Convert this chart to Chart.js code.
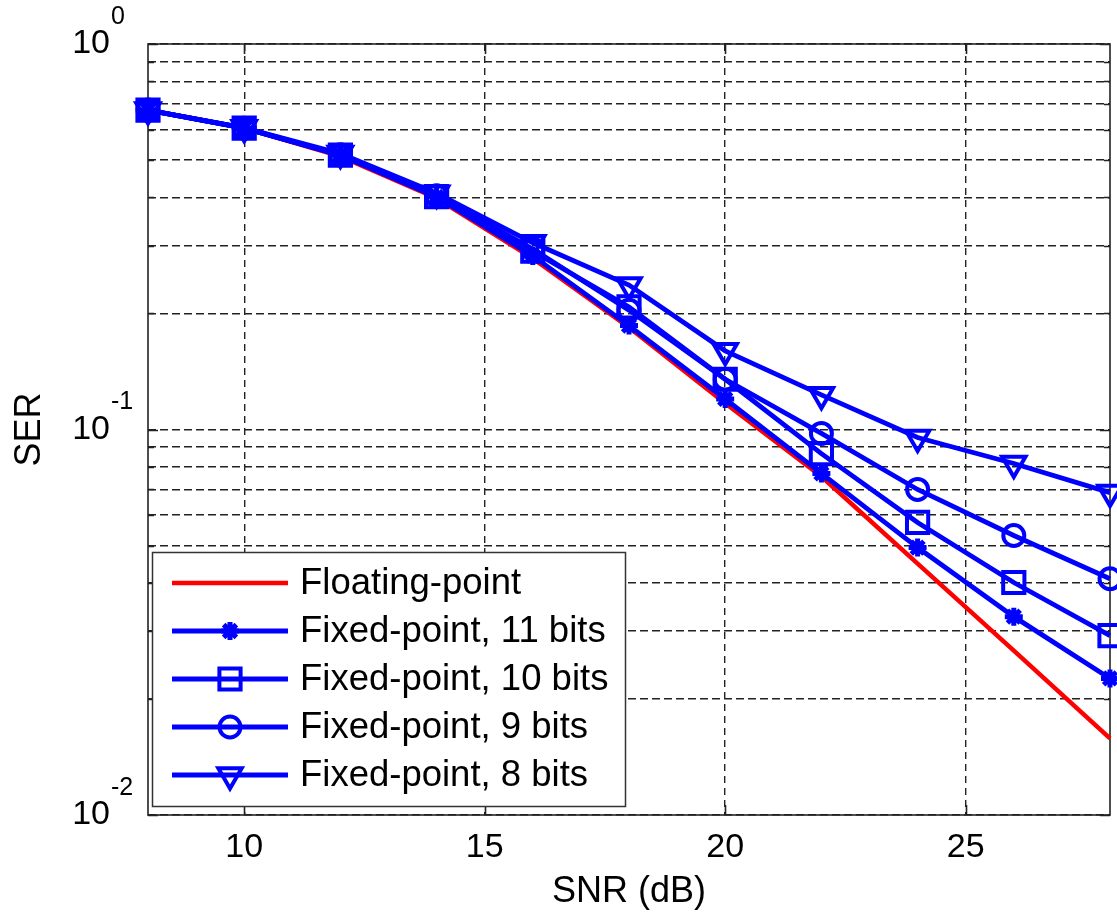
<!DOCTYPE html>
<html><head><meta charset="utf-8">
<script src="https://cdn.jsdelivr.net/npm/chart.js@4.4.0/dist/chart.umd.min.js"></script>
<style>html,body{margin:0;padding:0;background:#fff;overflow:hidden}#wrap{width:1117px;height:916px;position:relative}</style>
</head><body><div id="wrap"><canvas id="c" width="1117" height="916"></canvas></div>
<script>
// ---- data ----
const snr = [8, 10, 12, 14, 16, 18, 20, 22, 24, 26, 28];
const floatingPoint = [0.674, 0.605, 0.511, 0.398, 0.278, 0.184, 0.117, 0.0755, 0.0449, 0.0267, 0.0158];
const fixed11 = [0.674, 0.605, 0.515, 0.401, 0.282, 0.186, 0.120, 0.0769, 0.0494, 0.0327, 0.0226];
const fixed10 = [0.674, 0.605, 0.515, 0.402, 0.290, 0.208, 0.135, 0.0866, 0.0574, 0.0401, 0.0292];
const fixed9 = [0.674, 0.605, 0.516, 0.404, 0.294, 0.204, 0.135, 0.0977, 0.0699, 0.0531, 0.0410];
const fixed8 = [0.674, 0.606, 0.520, 0.410, 0.305, 0.237, 0.160, 0.123, 0.0953, 0.0816, 0.0686];
const seriesLabels = ['Floating-point', 'Fixed-point, 11 bits', 'Fixed-point, 10 bits', 'Fixed-point, 9 bits', 'Fixed-point, 8 bits'];
const xTickValues = [10, 15, 20, 25];
const yTickValues = [0.01, 0.02, 0.03, 0.04, 0.05, 0.06, 0.07, 0.08, 0.09, 0.1, 0.2, 0.3, 0.4, 0.5, 0.6, 0.7, 0.8, 0.9, 1];
const yDecades = [1, 0.1, 0.01];
const yDecadeBase = '10';
const yDecadeExponents = ['0', '-1', '-2'];
const xTitle = 'SNR (dB)';
const yTitle = 'SER';

const FONT = "'Liberation Sans', Arial, Helvetica, sans-serif";
const BLUE = '#0000ff', RED = '#ff0000';
const pts = arr => snr.map((x, i) => ({ x: x, y: arr[i] }));
const isDecade = v => Math.abs(Math.log10(v) - Math.round(Math.log10(v))) < 1e-9;

function blueSet(label, arr, style, radius, rot, order, bw) {
  return {
    label: label, data: pts(arr), borderColor: BLUE, borderWidth: 4.8,
    pointStyle: style, pointRadius: radius, pointRotation: rot || 0, pointBorderWidth: bw,
    pointBorderColor: BLUE, pointBackgroundColor: 'rgba(0,0,0,0)', order: order, clip: false,
    tension: 0
  };
}

const datasets = [
  { label: seriesLabels[0], data: pts(floatingPoint), borderColor: RED, borderWidth: 4.5, pointRadius: 0, order: 10, clip: false },
  blueSet(seriesLabels[1], fixed11, 'star', 9, 0, 4, 5),
  blueSet(seriesLabels[2], fixed10, 'rect', 15, 0, 3, 4),
  blueSet(seriesLabels[3], fixed9, 'circle', 10.5, 0, 2, 4),
  blueSet(seriesLabels[4], fixed8, 'triangle', 13.5, 180, 1, 4)
];

function drawMarker(ctx, style, x, y, r, rot) {
  if (Chart.helpers && Chart.helpers.drawPoint) {
    Chart.helpers.drawPoint(ctx, { pointStyle: style, radius: r, rotation: rot, borderWidth: ctx.lineWidth }, x, y);
    return;
  }
  ctx.beginPath();
  ctx.arc(x, y, r, 0, Math.PI * 2);
  ctx.stroke();
}

const framePlugin = {
  id: 'frame',
  beforeDatasetsDraw(chart) {
    const { ctx, chartArea: a } = chart;
    const ys = chart.scales.y, xs = chart.scales.x;
    ctx.save();
    ctx.strokeStyle = '#222';
    ctx.lineWidth = 1.6;
    ctx.setLineDash([]);
    ctx.strokeRect(a.left, a.top, a.right - a.left, a.bottom - a.top);
    ctx.beginPath();
    yTickValues.forEach(v => {
      const py = Math.round(ys.getPixelForValue(v)) + 0.5;
      const len = isDecade(v) ? 10 : 6;
      ctx.moveTo(a.left, py); ctx.lineTo(a.left + len, py);
      ctx.moveTo(a.right, py); ctx.lineTo(a.right - len, py);
    });
    xTickValues.forEach(v => {
      const px = Math.round(xs.getPixelForValue(v)) + 0.5;
      ctx.moveTo(px, a.bottom); ctx.lineTo(px, a.bottom - 10);
      ctx.moveTo(px, a.top); ctx.lineTo(px, a.top + 10);
    });
    ctx.stroke();
    ctx.restore();
  },
  afterDraw(chart) {
    const { ctx } = chart;
    const ys = chart.scales.y;
    ctx.save();
    // exponents of the y tick labels
    ctx.fillStyle = '#000';
    ctx.font = '25px ' + FONT;
    ctx.textAlign = 'left';
    ctx.textBaseline = 'middle';
    yDecades.forEach((d, i) => {
      const py = ys.getPixelForValue(d);
      ctx.fillText(yDecadeExponents[i], 111, py - 27);
    });
    // legend
    const L = 152, T = 552, R = 625, B = 806;
    ctx.fillStyle = '#fff';
    ctx.fillRect(L, T, R - L, B - T);
    ctx.strokeStyle = '#333';
    ctx.lineWidth = 1.5;
    ctx.strokeRect(L + 0.5, T + 0.5, R - L, B - T);
    ctx.font = '36.5px ' + FONT;
    chart.data.datasets.forEach((ds, i) => {
      const ry = 583 + i * 48;
      ctx.strokeStyle = ds.borderColor;
      ctx.lineWidth = ds.borderWidth;
      ctx.beginPath();
      ctx.moveTo(172, ry); ctx.lineTo(288, ry);
      ctx.stroke();
      if (ds.pointRadius > 0) {
        ctx.fillStyle = 'rgba(0,0,0,0)';
        ctx.lineWidth = ds.pointBorderWidth;
        ctx.strokeStyle = ds.pointBorderColor;
        drawMarker(ctx, ds.pointStyle, 230, ry, ds.pointRadius, ds.pointRotation);
      }
      ctx.fillStyle = '#000';
      ctx.textAlign = 'left';
      ctx.textBaseline = 'middle';
      ctx.fillText(ds.label, 300, ry + 1);
    });
    ctx.restore();
  }
};

new Chart(document.getElementById('c'), {
  type: 'line',
  data: { datasets: datasets },
  plugins: [framePlugin],
  options: {
    responsive: false,
    animation: false,
    devicePixelRatio: 1,
    layout: { autoPadding: false, padding: { top: 44, right: 7, left: 0, bottom: 0 } },
    plugins: { legend: { display: false }, tooltip: { enabled: false } },
    elements: { line: { tension: 0 } },
    scales: {
      x: {
        type: 'linear', min: 8, max: 28,
        afterBuildTicks: s => { s.ticks = xTickValues.map(v => ({ value: v })); },
        afterFit: s => { s.height = 101; s.paddingLeft = 0; s.paddingRight = 0; },
        grid: { color: '#222', lineWidth: 1.4, drawTicks: false },
        border: { display: false, dash: [7, 5] },
        ticks: { font: { family: FONT, size: 34 }, color: '#000', padding: 12, maxRotation: 0, autoSkip: false },
        title: { display: true, text: xTitle, color: '#000', font: { family: FONT, size: 36 }, padding: { top: 0, bottom: 2 } }
      },
      y: {
        type: 'logarithmic', min: 0.01, max: 1,
        afterBuildTicks: s => { s.ticks = yTickValues.map(v => ({ value: v })); },
        afterFit: s => { s.width = 148; s.paddingTop = 0; s.paddingBottom = 0; },
        grid: { color: '#222', lineWidth: 1.4, drawTicks: false },
        border: { display: false, dash: [8, 4] },
        ticks: {
          font: { family: FONT, size: 34 }, color: '#000', padding: 38, autoSkip: false,
          callback: v => isDecade(v) ? yDecadeBase : ''
        },
        title: { display: true, text: yTitle, color: '#000', font: { family: FONT, size: 36 }, padding: { top: 8, bottom: 0 } }
      }
    }
  }
});
</script>
</body></html>
